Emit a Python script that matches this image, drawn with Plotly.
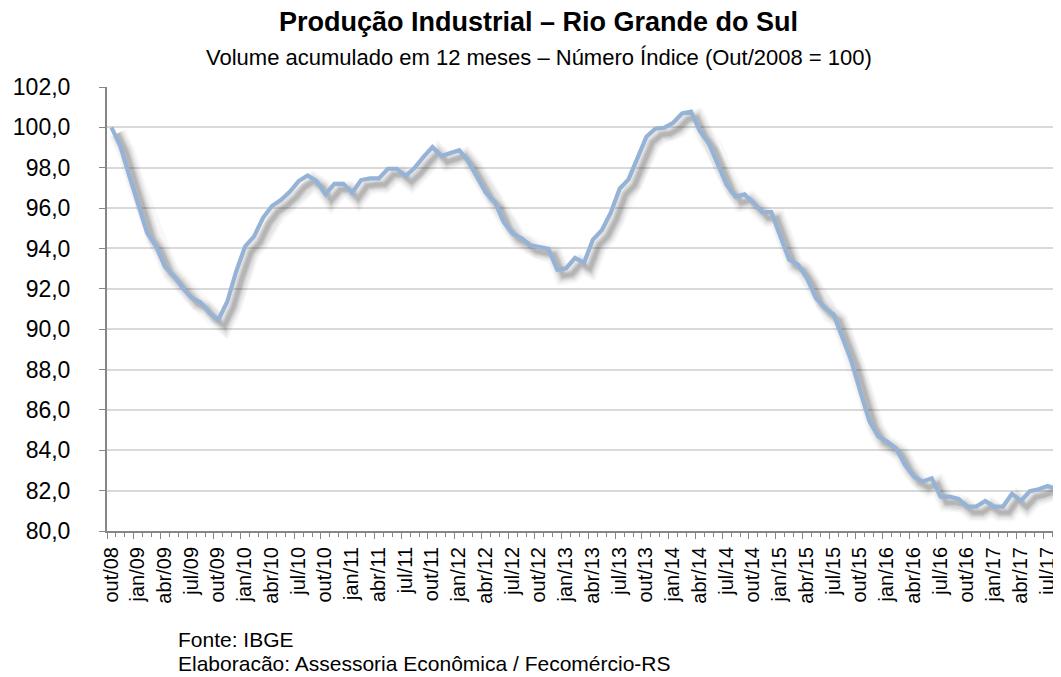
import plotly.graph_objects as go

# ---------------- data ----------------
MONTHS = ["jan", "fev", "mar", "abr", "mai", "jun", "jul", "ago", "set", "out", "nov", "dez"]
# categories: out/08 ... ago/17 (107 months)
categories = []
for k in range(107):
    m = (9 + k) % 12
    y = 8 + (9 + k) // 12
    categories.append(f"{MONTHS[m]}/{y:02d}")

values = [
    100.0, 99.07, 97.6, 96.2, 94.77, 94.11, 93.09, 92.62, 92.04, 91.55,
    91.33, 90.80, 90.47, 91.38, 92.87, 94.11, 94.6, 95.52, 96.1, 96.4,
    96.81, 97.34, 97.62, 97.34, 96.68, 97.2, 97.2, 96.76, 97.39, 97.47,
    97.47, 97.95, 97.95, 97.59, 98.0, 98.54, 99.02, 98.58, 98.71, 98.87,
    98.33, 97.59, 96.76, 96.29, 95.30, 94.74, 94.51, 94.16, 94.08, 93.98,
    92.95, 93.02, 93.53, 93.29, 94.44, 94.9, 95.77, 96.96, 97.42, 98.5,
    99.54, 99.93, 99.98, 100.23, 100.69, 100.78, 99.82, 99.21, 98.16, 97.15,
    96.56, 96.68, 96.26, 95.8, 95.8, 94.65, 93.45, 93.2, 92.54, 91.55,
    91.05, 90.72, 89.62, 88.42, 86.9, 85.46, 84.68, 84.43, 84.1, 83.28,
    82.7, 82.45, 82.61, 81.7, 81.7, 81.59, 81.21, 81.21, 81.49, 81.21,
    81.21, 81.84, 81.49, 81.97, 82.07, 82.23, 82.07,
]

tick_labels = [
    "out/08", "jan/09", "abr/09", "jul/09", "out/09", "jan/10", "abr/10", "jul/10",
    "out/10", "jan/11", "abr/11", "jul/11", "out/11", "jan/12", "abr/12", "jul/12",
    "out/12", "jan/13", "abr/13", "jul/13", "out/13", "jan/14", "abr/14", "jul/14",
    "out/14", "jan/15", "abr/15", "jul/15", "out/15", "jan/16", "abr/16", "jul/16",
    "out/16", "jan/17", "abr/17", "jul/17",
]

title = "Produção Industrial – Rio Grande do Sul"
subtitle = "Volume acumulado em 12 meses – Número Índice (Out/2008 = 100)"
footer1 = "Fonte: IBGE"
footer2 = "Elaboracão: Assessoria Econômica / Fecomércio-RS"

# ---------------- layout geometry ----------------
# the page body adds an 8px margin, so the figure is 8px smaller and
# all page-pixel positions are shifted by that offset
PAGE_W, PAGE_H = 1061, 677
OFF = 8
W, H = PAGE_W - OFF, PAGE_H - OFF
PLOT_LEFT, PLOT_TOP, PLOT_BOTTOM, PLOT_RIGHT = 107, 87, 531, 1061   # page px
L = PLOT_LEFT - OFF
T = PLOT_TOP - OFF
B = PAGE_H - PLOT_BOTTOM
R = PAGE_W - PLOT_RIGHT
plot_w = W - L - R
plot_h = H - T - B
n = len(values)
xr = [-0.5, n - 0.5]
yr = [80, 102]
px_per_x = plot_w / (xr[1] - xr[0])
px_per_y = plot_h / (yr[1] - yr[0])

def pxx(x):  # page px -> paper
    return (x - PLOT_LEFT) / plot_w

def pxy(y):  # page px -> paper
    return (PLOT_BOTTOM - y) / plot_h

# shadow offset (pixels)
sh_dx, sh_dy = 6, 6
dx = sh_dx / px_per_x
dy = sh_dy / px_per_y

x_idx = list(range(n))
FONT = "Liberation Sans, Arial, sans-serif"

fig = go.Figure()

# soft drop shadow (on base axes, shifted ranges)
for w, a in [(18, 0.03), (15, 0.04), (12, 0.05), (9, 0.07), (6.5, 0.09), (4, 0.11)]:
    fig.add_trace(go.Scatter(
        x=x_idx, y=values, mode="lines", xaxis="x", yaxis="y",
        line=dict(color=f"rgba(40,40,40,{a})", width=w, shape="linear"),
        hoverinfo="skip", showlegend=False,
    ))

# main line
fig.add_trace(go.Scatter(
    x=x_idx, y=values, mode="lines", xaxis="x2", yaxis="y2",
    line=dict(color="#95B3D7", width=4.2),
    customdata=categories, hovertemplate="%{customdata}: %{y:.1f}<extra></extra>",
    showlegend=False,
))

tickvals = [-0.5 + 3 * k for k in range(len(tick_labels))]

fig.update_layout(
    template="none",
    width=W, height=H,
    margin=dict(l=L, r=R, t=T, b=B, autoexpand=False),
    paper_bgcolor="white", plot_bgcolor="white",
    separators=",.",
    font=dict(family=FONT, color="black"),
    xaxis=dict(visible=False, range=[xr[0] - dx, xr[1] - dx], fixedrange=True,
               automargin=False),
    yaxis=dict(visible=False, range=[yr[0] + dy, yr[1] + dy], fixedrange=True,
               automargin=False),
    xaxis2=dict(
        overlaying="x", anchor="y2", range=xr, automargin=False,
        showgrid=False, zeroline=False,
        showline=True, linecolor="#868686", linewidth=2,
        tickmode="array", tickvals=tickvals, ticktext=tick_labels,
        ticks="outside", ticklen=6, tickwidth=1.3, tickcolor="#868686",
        tickangle=-90, ticklabelshift=int(round(px_per_x / 2)),
        tickfont=dict(size=20, family=FONT, color="black"),
        minor=dict(tick0=-0.5, dtick=1, ticks="outside", ticklen=4,
                   tickwidth=1.3, tickcolor="#868686", showgrid=False),
    ),
    yaxis2=dict(
        overlaying="y", anchor="x2", range=yr, automargin=False,
        dtick=2, tick0=80, tickformat=".1f",
        showgrid=True, gridcolor="#D9D9D9", gridwidth=1.5,
        zeroline=False,
        showline=True, linecolor="#868686", linewidth=2,
        ticks="outside", ticklen=6, tickwidth=1.3, tickcolor="#868686",
        ticklabelstandoff=24,
        tickfont=dict(size=23, family=FONT, color="black"),
    ),
    annotations=[
        dict(text=f"<b>{title}</b>", xref="paper", yref="paper",
             x=pxx(538.5), y=pxy(22), xanchor="center", yanchor="middle",
             showarrow=False, font=dict(size=27, family=FONT, color="black")),
        dict(text=subtitle, xref="paper", yref="paper",
             x=pxx(539), y=pxy(57), xanchor="center", yanchor="middle",
             showarrow=False, font=dict(size=22, family=FONT, color="black")),
        dict(text=footer1, xref="paper", yref="paper",
             x=pxx(176), y=pxy(639), xanchor="left", yanchor="middle",
             showarrow=False, font=dict(size=21, family=FONT, color="black")),
        dict(text=footer2, xref="paper", yref="paper",
             x=pxx(176), y=pxy(PAGE_H), xanchor="left", yanchor="bottom",
             showarrow=False, font=dict(size=21, family=FONT, color="black")),
    ],
)

fig.write_html("out.html")
